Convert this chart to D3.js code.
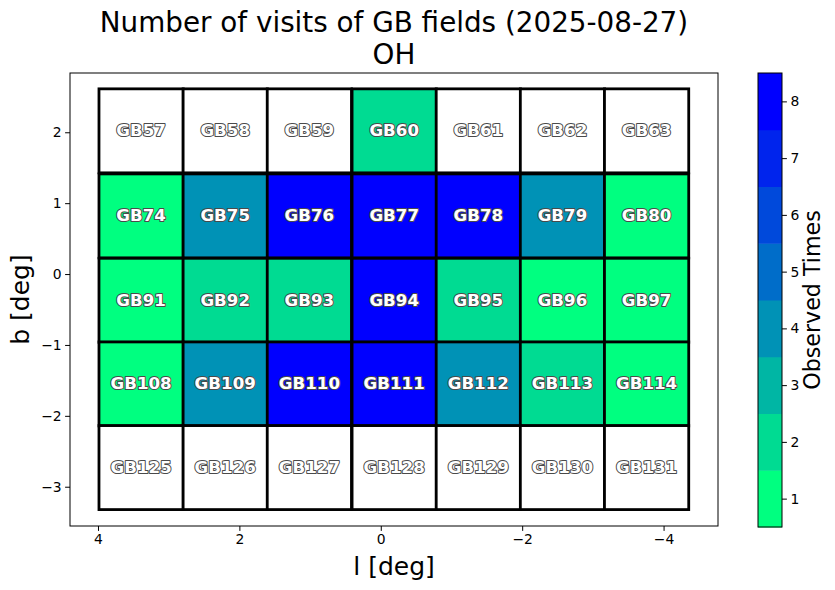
<!DOCTYPE html>
<html>
<head>
<meta charset="utf-8">
<script src="https://cdn.jsdelivr.net/npm/d3@7"></script>
<style>
  html, body { margin: 0; padding: 0; background: #fff; }
  svg { display: block; font-family: "DejaVu Sans", sans-serif; }
</style>
</head>
<body>
<svg id="chart" width="835" height="590"></svg>
<script>
// ---- data ----
const titleLines = ["Number of visits of GB fields (2025-08-27)", "OH"];
const lCenters = [3.39, 2.20, 1.01, -0.19, -1.38, -2.57, -3.76]; // deg
const bCenters = [2.02, 0.82, -0.37, -1.55, -2.73];               // deg
const fieldWidth = 1.192;   // deg (l)
const fieldHeight = 1.185;  // deg (b)
const fieldIds = [
  [57, 58, 59, 60, 61, 62, 63],
  [74, 75, 76, 77, 78, 79, 80],
  [91, 92, 93, 94, 95, 96, 97],
  [108, 109, 110, 111, 112, 113, 114],
  [125, 126, 127, 128, 129, 130, 131]
];
const visits = [
  [0, 0, 0, 2, 0, 0, 0],
  [1, 4, 8, 8, 8, 4, 1],
  [1, 2, 2, 8, 2, 1, 1],
  [1, 4, 8, 8, 4, 2, 1],
  [0, 0, 0, 0, 0, 0, 0]
];
const xTicks = [4, 2, 0, -2, -4];
const yTicks = [2, 1, 0, -1, -2, -3];
const cbTicks = [1, 2, 3, 4, 5, 6, 7, 8];
const cbLevels = [1, 2, 3, 4, 5, 6, 7, 8];

// ---- layout ----
const svg = d3.select("#chart");
const ax = { left: 70, right: 718, top: 73, bottom: 526 };
const cb = { left: 758, right: 782, top: 73, bottom: 527 };

const x = d3.scaleLinear().domain([4.396, -4.77]).range([ax.left, ax.right]);
const y = d3.scaleLinear().domain([2.836, -3.554]).range([ax.top, ax.bottom]);

// discrete winter_r colormap
const interp = d3.interpolateRgb("#00ff80", "#0000ff");
const levelColors = cbLevels.map((v, i) => interp(i / (cbLevels.length - 1)));
const color = d3.scaleOrdinal().domain(cbLevels).range(levelColors);
const fill = v => v > 0 ? color(v) : "#ffffff";

const fmt = v => (v < 0 ? "\u2212" + Math.abs(v) : String(v));

// title
svg.selectAll("text.title").data(titleLines).join("text")
  .attr("class", "title")
  .attr("x", 394).attr("y", (d, i) => 32 + i * 32)
  .attr("text-anchor", "middle")
  .attr("font-size", 27.8)
  .attr("fill", "#000")
  .text(d => d);

// axes frame
svg.append("rect")
  .attr("x", ax.left).attr("y", ax.top)
  .attr("width", ax.right - ax.left).attr("height", ax.bottom - ax.top)
  .attr("fill", "none").attr("stroke", "#000").attr("stroke-width", 1);

// cells
const cells = [];
fieldIds.forEach((row, r) => row.forEach((id, c) => {
  cells.push({ id, v: visits[r][c], l: lCenters[c], b: bCenters[r] });
}));

const g = svg.append("g");
g.selectAll("rect.cell").data(cells).join("rect")
  .attr("class", "cell")
  .attr("x", d => x(d.l + fieldWidth / 2))
  .attr("y", d => y(d.b + fieldHeight / 2))
  .attr("width", d => x(d.l - fieldWidth / 2) - x(d.l + fieldWidth / 2))
  .attr("height", d => y(d.b - fieldHeight / 2) - y(d.b + fieldHeight / 2))
  .attr("fill", d => fill(d.v))
  .attr("stroke", "#000").attr("stroke-width", 2.8);

g.selectAll("text.lab").data(cells).join("text")
  .attr("class", "lab")
  .attr("x", d => x(d.l))
  .attr("y", d => y(d.b))
  .attr("dy", "0.33em")
  .attr("text-anchor", "middle")
  .attr("font-size", 16.7)
  .attr("font-weight", "bold")
  .attr("fill", "#fff")
  .attr("stroke", "#4a4a4a")
  .attr("stroke-width", 2)
  .attr("stroke-linejoin", "round")
  .attr("paint-order", "stroke")
  .text(d => "GB" + d.id);

// x axis
const xa = svg.append("g").attr("transform", `translate(0,${ax.bottom})`)
  .call(d3.axisBottom(x).tickValues(xTicks).tickSize(4.9).tickPadding(3.5).tickFormat(fmt));
xa.select(".domain").remove();
xa.selectAll("text").attr("font-size", 13.9).attr("font-family", "DejaVu Sans").attr("fill", "#000");
xa.selectAll("line").attr("stroke", "#000");

// y axis
const ya = svg.append("g").attr("transform", `translate(${ax.left},0)`)
  .call(d3.axisLeft(y).tickValues(yTicks).tickSize(4.9).tickPadding(3.5).tickFormat(fmt));
ya.select(".domain").remove();
ya.selectAll("text").attr("font-size", 13.9).attr("font-family", "DejaVu Sans").attr("fill", "#000");
ya.selectAll("line").attr("stroke", "#000");

// axis labels
svg.append("text")
  .attr("x", (ax.left + ax.right) / 2).attr("y", 575)
  .attr("text-anchor", "middle").attr("font-size", 25)
  .text("l [deg]");
svg.append("text")
  .attr("transform", `translate(29,${(ax.top + ax.bottom) / 2}) rotate(-90)`)
  .attr("text-anchor", "middle").attr("font-size", 25)
  .text("b [deg]");

// colorbar
const cy = d3.scaleLinear().domain([0.5, 8.5]).range([cb.bottom, cb.top]);
svg.append("g").selectAll("rect").data(cbLevels).join("rect")
  .attr("x", cb.left)
  .attr("y", d => cy(d + 0.5))
  .attr("width", cb.right - cb.left)
  .attr("height", d => cy(d - 0.5) - cy(d + 0.5) + 0.5)
  .attr("fill", d => color(d));
svg.append("rect")
  .attr("x", cb.left).attr("y", cb.top)
  .attr("width", cb.right - cb.left).attr("height", cb.bottom - cb.top)
  .attr("fill", "none").attr("stroke", "#000").attr("stroke-width", 1);
const ca = svg.append("g").attr("transform", `translate(${cb.right},0)`)
  .call(d3.axisRight(cy).tickValues(cbTicks).tickSize(4.9).tickPadding(3.5));
ca.select(".domain").remove();
ca.selectAll("text").attr("font-size", 13.9).attr("font-family", "DejaVu Sans").attr("fill", "#000");
ca.selectAll("line").attr("stroke", "#000");
svg.append("text")
  .attr("transform", `translate(820,${(cb.top + cb.bottom) / 2}) rotate(-90)`)
  .attr("text-anchor", "middle").attr("font-size", 22.2)
  .text("Observed Times");
</script>
</body>
</html>
